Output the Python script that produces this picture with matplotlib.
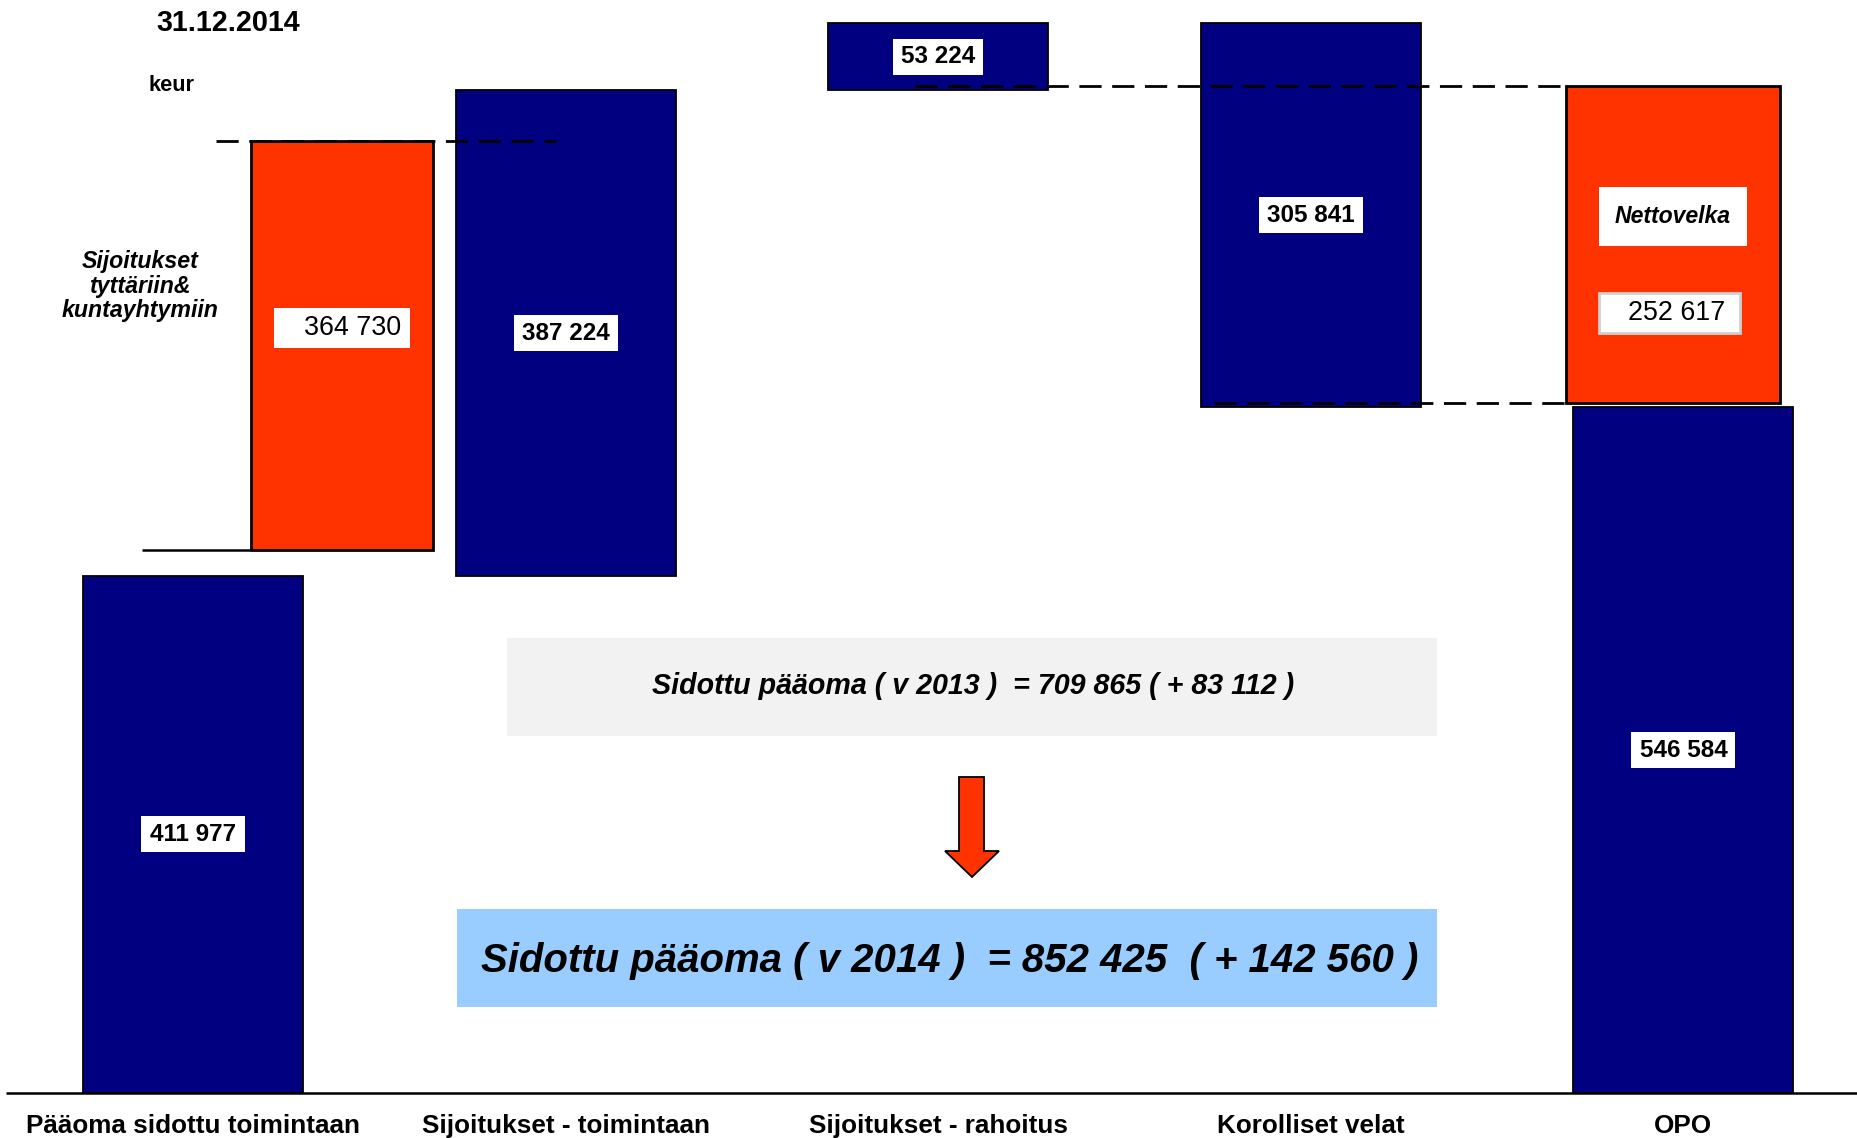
import matplotlib
matplotlib.use("Agg")
import matplotlib.pyplot as plt
from matplotlib.patches import Rectangle, Polygon

# ---------------- data (keur) ----------------
categories = ["Pääoma sidottu toimintaan", "Sijoitukset - toimintaan",
              "Sijoitukset - rahoitus", "Korolliset velat", "OPO"]
paaoma_sidottu = 411977
sij_toimintaan = 387224
sij_rahoitus = 53224
korolliset_velat = 305841
opo = 546584
nettovelka = 252617
nettovelka_drawn_bottom = 549800          # as drawn in the chart
sij_tyttariin = 364730
sij_tyttariin_drawn = [432700, 758600]   # span as drawn in the chart (not to scale)
sidottu_2013, muutos_2013 = 709865, 83112
sidottu_2014, muutos_2014 = 852425, 142560

def fmt(v):
    return f"{v:,}".replace(",", " ")

# ---------------- layout ----------------
W, H = 1858, 1138
DPI = 100
NAVY = "#000080"
ORANGE = "#FF3300"
plt.rcParams["font.family"] = ["Liberation Sans", "DejaVu Sans"]

fig = plt.figure(figsize=(W / DPI, H / DPI), dpi=DPI)
ax = fig.add_axes([0, 0, 1, 1])
ax.set_axis_off()

cat_px = 372.6          # pixel spacing of categories
k = 796.86              # keur per pixel
x0 = -193 / cat_px
ax.set_xlim(x0, x0 + W / cat_px)
ax.set_ylim(-(H - 1093) * k, 1093 * k)
PXX = 1 / cat_px
PXY = k

xs = list(range(len(categories)))
bw = 220 * PXX

total = paaoma_sidottu + sij_toimintaan + sij_rahoitus
bottoms = [0, paaoma_sidottu, paaoma_sidottu + sij_toimintaan,
           total - korolliset_velat, 0]
heights = [paaoma_sidottu, sij_toimintaan, sij_rahoitus, korolliset_velat, opo]

ax.bar(xs, heights, bottom=bottoms, width=bw, color=NAVY,
       edgecolor="black", linewidth=1.3, zorder=2)

# orange bars
x_tyt = 0.40
ax.bar([x_tyt], [sij_tyttariin_drawn[1] - sij_tyttariin_drawn[0]],
       bottom=[sij_tyttariin_drawn[0]], width=182 * PXX, color=ORANGE,
       edgecolor="black", linewidth=2.0, zorder=2)
x_nv = 3.972
ax.bar([x_nv], [nettovelka], bottom=[nettovelka_drawn_bottom],
       width=214 * PXX, color=ORANGE, edgecolor="black", linewidth=2.0,
       zorder=2)

# baseline
ax.plot([-0.502, x0 + W / cat_px], [0, 0], color="black", lw=1.8, zorder=3,
        solid_capstyle="butt")

# guide lines
dash = (0, (8, 3.8))
ax.plot([0.062, 0.974], [sij_tyttariin_drawn[1]] * 2, color="black", lw=2,
        linestyle=dash, zorder=4)
ax.plot([-0.137, 0.153], [sij_tyttariin_drawn[0]] * 2, color="black", lw=1.8,
        zorder=4, solid_capstyle="butt")
ax.plot([1.938, 3.69], [nettovelka_drawn_bottom + nettovelka] * 2,
        color="black", lw=2, linestyle=dash, zorder=4)
ax.plot([2.74, 3.68], [nettovelka_drawn_bottom] * 2, color="black", lw=2,
        linestyle=dash, zorder=4)


def box(xc, yc, wpx, hpx, fc="white", ec="none", lw=0):
    ax.add_patch(Rectangle((xc - wpx / 2 * PXX, yc - hpx / 2 * PXY),
                           wpx * PXX, hpx * PXY, facecolor=fc, edgecolor=ec,
                           linewidth=lw, zorder=5))


# value labels in bars (bold)
for x, b, h in zip(xs, bottoms, heights):
    wpx = 90 if h == sij_rahoitus else 104
    yc = b + h / 2
    box(x, yc, wpx, 36)
    ax.text(x, yc, fmt(h), ha="center", va="center", fontsize=17.5,
            fontweight="bold", zorder=6)

# orange bar labels
yc = (1093 - 328) * k
box(x_tyt, yc, 136, 40)
ax.text(x_tyt + (68 - 9) * PXX, yc, fmt(sij_tyttariin), ha="right",
        va="center", fontsize=19.4, zorder=6)

yc = (1093 - 216.5) * k
box(3.972, yc, 148, 59)
ax.text(3.972, yc, "Nettovelka", ha="center", va="center", fontsize=16.6,
        fontweight="bold", fontstyle="italic", zorder=6)

yc = (1093 - 313) * k
box(3.962, yc, 141, 40, ec="#D0D0D0", lw=2)
ax.text(3.962 + (70.5 - 14) * PXX, yc, fmt(nettovelka), ha="right",
        va="center", fontsize=19.4, zorder=6)

# category labels
for x, c in zip(xs, categories):
    ax.text(x, (1093 - 1132.7) * k, c, ha="center", va="baseline",
            fontsize=18.8, fontweight="bold")

# ---------------- annotations (pixel helpers) ----------------
def fx(px):
    return px / W


def fy(py):
    return 1 - py / H


T = ax.transAxes
ax.text(fx(228), fy(30.7), "31.12.2014", transform=T, ha="center",
        va="baseline", fontsize=20.7, fontweight="bold")
ax.text(fx(172), fy(90.7), "keur", transform=T, ha="center", va="baseline",
        fontsize=15.7, fontweight="bold")
for line, base in zip(["Sijoitukset", "tyttäriin&", "kuntayhtymiin"],
                      [268, 293, 317]):
    ax.text(fx(140), fy(base), line, transform=T, ha="center", va="baseline",
            fontsize=16.7, fontweight="bold", fontstyle="italic")

# grey box (2013)
ax.add_patch(Rectangle((fx(507), fy(736)), fx(1437) - fx(507),
                       fy(638) - fy(736), transform=T, facecolor="#F2F2F2",
                       edgecolor="none", zorder=1))
ax.text(fx(973), fy(694), f"Sidottu pääoma ( v 2013 )  = {fmt(sidottu_2013)} ( + {fmt(muutos_2013)} )",
        transform=T, ha="center", va="baseline", fontsize=20.6,
        fontweight="bold", fontstyle="italic", zorder=2)

# arrow
arrow = [(959, 777), (984, 777), (984, 851), (999, 851), (972, 877),
         (945, 851), (959, 851)]
ax.add_patch(Polygon([(fx(a), fy(b)) for a, b in arrow], closed=True,
                     transform=T, facecolor=ORANGE, edgecolor="black",
                     linewidth=1.3, zorder=3))

# blue box (2014)
ax.add_patch(Rectangle((fx(457), fy(1007)), fx(1437) - fx(457),
                       fy(909) - fy(1007), transform=T, facecolor="#99CCFF",
                       edgecolor="none", zorder=1))
ax.text(fx(950), fy(971.5), f"Sidottu pääoma ( v 2014 )  = {fmt(sidottu_2014)}  ( + {fmt(muutos_2014)} )",
        transform=T, ha="center", va="baseline", fontsize=28.9,
        fontweight="bold", fontstyle="italic", zorder=2)

fig.savefig("out.png", dpi=DPI)
